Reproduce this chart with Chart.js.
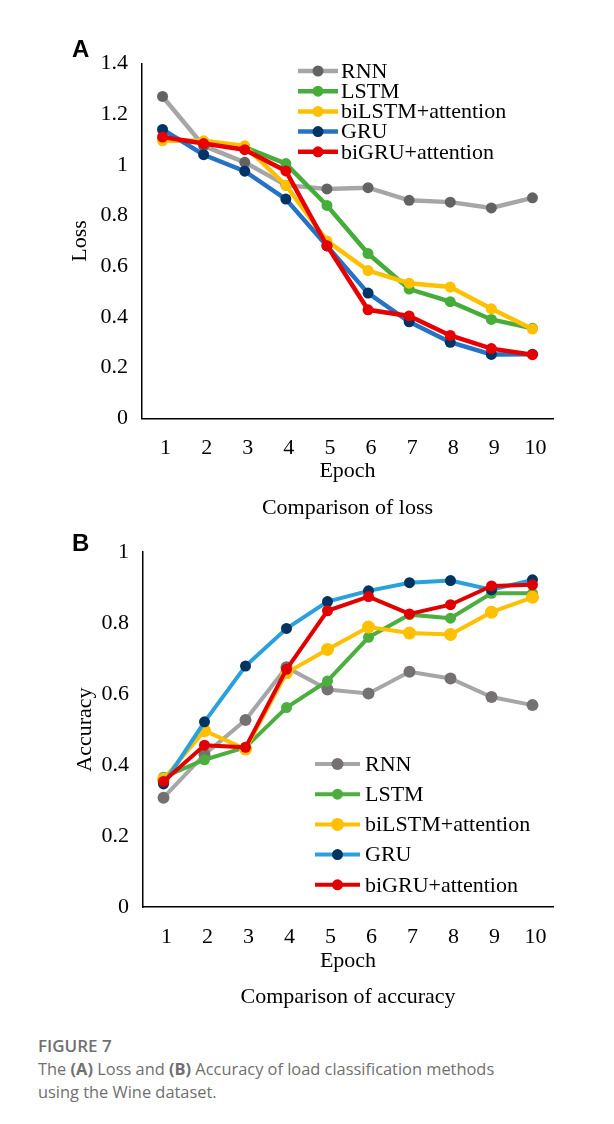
<!DOCTYPE html>
<html>
<head>
<meta charset="utf-8">
<script src="https://cdn.jsdelivr.net/npm/chart.js@4.4.1/dist/chart.umd.min.js"></script>
<style>
  html, body { margin: 0; padding: 0; background: #fff; }
  body { width: 614px; height: 1124px; position: relative; overflow: hidden; }
  .panel { position: absolute; left: 0; width: 614px; height: 495px; }
  #boxA { top: 30px; }
  #boxB { top: 525px; }
  .letter { position: absolute; left: 72px; font: bold 24px/24px 'Liberation Sans', Arial, sans-serif; color: #000; }
  .caption { position: absolute; left: 38px; top: 1034px; width: 570px; font: 16.4px/23px 'Open Sans', 'Noto Sans', sans-serif; color: #707070; }
  .caption .fig { font-weight: 600; font-size: 17px; }
  .caption b { font-weight: 700; }
</style>
</head>
<body>
<div class="panel" id="boxA"><canvas id="lossChart" width="614" height="495"></canvas></div>
<div class="panel" id="boxB"><canvas id="accChart" width="614" height="495"></canvas></div>
<div class="letter" style="top:37px">A</div>
<div class="letter" style="top:531px">B</div>
<div class="caption">
  <div class="fig">FIGURE 7</div>
  The <b>(A)</b> Loss and <b>(B)</b> Accuracy of load classification methods<br>using the Wine dataset.
</div>
<script>
// data
const epochs = ['1', '2', '3', '4', '5', '6', '7', '8', '9', '10'];
const seriesNames = ['RNN', 'LSTM', 'biLSTM+attention', 'GRU', 'biGRU+attention'];

const lossRNN    = [1.27, 1.075, 1.01, 0.92, 0.905, 0.91, 0.86, 0.853, 0.83, 0.87];
const lossLSTM   = [1.10, 1.09, 1.07, 1.005, 0.84, 0.65, 0.51, 0.46, 0.39, 0.355];
const lossBiLSTM = [1.095, 1.095, 1.075, 0.92, 0.70, 0.583, 0.533, 0.518, 0.432, 0.352];
const lossGRU    = [1.14, 1.04, 0.975, 0.865, 0.68, 0.494, 0.381, 0.30, 0.252, 0.253];
const lossBiGRU  = [1.11, 1.084, 1.06, 0.976, 0.681, 0.428, 0.404, 0.327, 0.275, 0.251];

const accRNN    = [0.308, 0.43, 0.527, 0.676, 0.613, 0.602, 0.663, 0.644, 0.592, 0.569];
const accLSTM   = [0.366, 0.415, 0.45, 0.562, 0.637, 0.76, 0.824, 0.814, 0.884, 0.884];
const accBiLSTM = [0.36, 0.497, 0.445, 0.66, 0.726, 0.789, 0.772, 0.768, 0.831, 0.873];
const accGRU    = [0.347, 0.522, 0.679, 0.785, 0.861, 0.891, 0.914, 0.920, 0.894, 0.922];
const accBiGRU  = [0.354, 0.456, 0.45, 0.67, 0.835, 0.875, 0.826, 0.852, 0.905, 0.908];

const lossTicks = [0, 0.2, 0.4, 0.6, 0.8, 1, 1.2, 1.4];
const accTicks  = [0, 0.2, 0.4, 0.6, 0.8, 1];

Chart.defaults.font.family = "'Liberation Serif', 'Times New Roman', serif";
Chart.defaults.font.size = 22;
Chart.defaults.color = '#000';

// legend drawn inside the plot, like the Excel original
const innerLegend = {
  id: 'innerLegend',
  afterDatasetsDraw(chart, args, opts) {
    const ctx = chart.ctx;
    ctx.save();
    chart.data.datasets.forEach((ds, i) => {
      const y = opts.y0 + i * opts.dy;
      ctx.strokeStyle = ds.borderColor;
      ctx.lineWidth = ds.borderWidth;
      ctx.beginPath();
      ctx.moveTo(opts.x0, y);
      ctx.lineTo(opts.x1, y);
      ctx.stroke();
      ctx.fillStyle = ds.pointBackgroundColor;
      ctx.beginPath();
      ctx.arc(opts.xm, y, ds.pointRadius, 0, Math.PI * 2);
      ctx.fill();
      ctx.fillStyle = '#000';
      ctx.font = "22px 'Liberation Serif', serif";
      ctx.textBaseline = 'middle';
      ctx.textAlign = 'left';
      ctx.fillText(ds.label, opts.xt, y + 1);
    });
    ctx.restore();
  }
};

// chart title under the axis, centred on the plot area (not the canvas)
const plotTitle = {
  id: 'plotTitle',
  afterDraw(chart, args, opts) {
    const ctx = chart.ctx;
    const a = chart.chartArea;
    ctx.save();
    ctx.fillStyle = '#000';
    ctx.font = "22px 'Liberation Serif', serif";
    ctx.textAlign = 'center';
    ctx.textBaseline = 'middle';
    ctx.fillText(opts.text, (a.left + a.right) / 2, a.bottom + opts.dy);
    ctx.restore();
  }
};

function makeSets(values, lines, marks, width, radius) {
  return values.map((v, i) => ({
    label: seriesNames[i],
    data: v,
    borderColor: lines[i],
    backgroundColor: lines[i],
    pointBackgroundColor: marks[i],
    pointBorderWidth: 0,
    pointRadius: radius[i],
    borderWidth: width,
    tension: 0,
    order: 5 - i
  }));
}

function makeChart(id, sets, ticks, maxY, yTitle, titleText, cfg) {
  return new Chart(document.getElementById(id), {
    type: 'line',
    data: { labels: epochs, datasets: sets },
    options: {
      responsive: false,
      animation: false,
      layout: { padding: { top: cfg.top, right: 61, left: 0, bottom: cfg.bottom } },
      plugins: {
        legend: { display: false },
        tooltip: { enabled: false },
        title: { display: false },
        plotTitle: { text: titleText, dy: cfg.titleDy },
        innerLegend: cfg.legend
      },
      scales: {
        x: {
          offset: true,
          grid: { display: false, drawTicks: false },
          border: { display: true, color: '#000', width: 1.5 },
          ticks: { padding: cfg.xPad, labelOffset: 3, font: { size: 22 } },
          title: { display: true, text: 'Epoch', font: { size: 22 }, padding: { top: 0, bottom: cfg.epochPad } },
          afterFit: s => { s.height = cfg.xHeight; }
        },
        y: {
          min: 0,
          max: maxY,
          grid: { display: false, drawTicks: false },
          border: { display: true, color: '#000', width: 1.5 },
          afterBuildTicks: s => { s.ticks = ticks.map(v => ({ value: v })); },
          ticks: { padding: 14, font: { size: 22 }, callback: v => String(Number(v.toFixed(1))) },
          title: { display: true, text: yTitle, font: { size: 22 }, padding: { top: cfg.yTitlePad, bottom: 0 } },
          afterFit: s => { s.width = cfg.yWidth; }
        }
      }
    },
    plugins: [innerLegend, plotTitle]
  });
}

const lossSets = makeSets(
  [lossRNN, lossLSTM, lossBiLSTM, lossGRU, lossBiGRU],
  ['#a6a6a6', '#47ad3a', '#ffc000', '#2673c5', '#e60000'],
  ['#636363', '#47ad3a', '#ffc000', '#003366', '#e60000'],
  4.5, [5.5, 5.5, 5.5, 5.5, 5.5]
);
makeChart('lossChart', lossSets, lossTicks, 1.4, 'Loss', 'Comparison of loss', {
  top: 33.5, bottom: 30.2, titleDy: 90, xHeight: 76.5, xPad: 17, epochPad: 10.6, yWidth: 142, yTitlePad: 66.8,
  legend: { x0: 298, x1: 338, xm: 318, xt: 341, y0: 41, dy: 20.2 }
});

const accSets = makeSets(
  [accRNN, accLSTM, accBiLSTM, accGRU, accBiGRU],
  ['#a6a6a6', '#4cae3f', '#ffc000', '#2aa0dc', '#e00000'],
  ['#767171', '#4cae3f', '#ffc000', '#00335f', '#e00000'],
  4, [6, 5.5, 6.5, 5.5, 5.5]
);
makeChart('accChart', accSets, accTicks, 1, 'Accuracy', 'Comparison of accuracy', {
  top: 26, bottom: 36.2, titleDy: 90, xHeight: 76.8, xPad: 16.6, epochPad: 9.6, yWidth: 143, yTitlePad: 71.8,
  legend: { x0: 315, x1: 360, xm: 337.5, xt: 365, y0: 239, dy: 30.2 }
});
</script>
</body>
</html>
